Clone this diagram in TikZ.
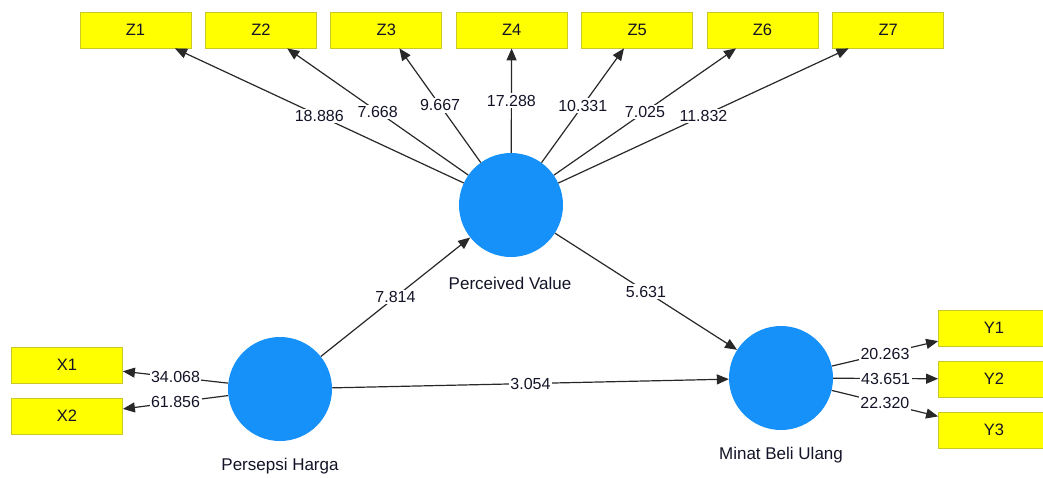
\documentclass[tikz,border=0pt]{standalone}
\usepackage{fontspec}
\setmainfont{Liberation Sans}
\usetikzlibrary{arrows.meta}
\definecolor{boxfill}{RGB}{255,255,0}
\definecolor{boxline}{RGB}{200,200,40}
\definecolor{lvfill}{RGB}{22,145,250}
\definecolor{edgec}{RGB}{40,40,40}
\definecolor{txt}{RGB}{20,20,40}
\begin{document}
\begin{tikzpicture}[x=1pt,y=-1pt,
 ind/.style={rectangle,draw=boxline,fill=boxfill,minimum width=111pt,minimum height=36pt,inner sep=0pt,font=\fontsize{16.5}{19}\selectfont,text=txt,line width=0.8pt},
 lv/.style={circle,fill=lvfill,minimum size=104pt,inner sep=0pt},
 lvname/.style={font=\fontsize{17}{20}\selectfont,text=txt},
 conn/.style={draw=edgec,line width=1.2pt,-{Triangle[length=12pt,width=10pt]}},
 coef/.style={fill=white,inner sep=1.5pt,font=\fontsize{16}{19}\selectfont,text=txt},
]
\useasboundingbox (0,0) rectangle (1043,477);
\clip (0,0) rectangle (1043,477);
\fill[white] (0,0) rectangle (1043,477);

% indicator boxes
\node[ind] (z1) at (135.5,30) {Z1};
\node[ind] (z2) at (261,30) {Z2};
\node[ind] (z3) at (386.3,30) {Z3};
\node[ind] (z4) at (511.7,30) {Z4};
\node[ind] (z5) at (637.2,30) {Z5};
\node[ind] (z6) at (762.4,30) {Z6};
\node[ind] (z7) at (888.2,30) {Z7};
\node[ind] (x1) at (67,365) {X1};
\node[ind] (x2) at (67,416) {X2};
\node[ind] (y1) at (994,328) {Y1};
\node[ind] (y2) at (994,379) {Y2};
\node[ind] (y3) at (994,430) {Y3};

% latent variables
\node[lv] (pv) at (511,205) {};
\node[lv] (ph) at (280,389) {};
\node[lv] (mbu) at (781,378) {};
\node[lvname] (pvl) at (510,283) {Perceived Value};
\node[lvname] (phl) at (280,466) {Persepsi Harga};
\node[lvname] (mbul) at (781,455) {Minat Beli Ulang};

% outer loadings
\draw[conn] (pv) -- node[coef]{18.886} (z1);
\draw[conn] (pv) -- node[coef]{7.668} (z2);
\draw[conn] (pv) -- node[coef]{9.667} (z3);
\draw[conn] (pv) -- node[coef]{17.288} (z4);
\draw[conn] (pv) -- node[coef]{10.331} (z5);
\draw[conn] (pv) -- node[coef]{7.025} (z6);
\draw[conn] (pv) -- node[coef]{11.832} (z7);
\draw[conn] (ph) -- node[coef]{34.068} (x1);
\draw[conn] (ph) -- node[coef]{61.856} (x2);
\draw[conn] (mbu) -- node[coef]{20.263} (y1);
\draw[conn] (mbu) -- node[coef]{43.651} (y2);
\draw[conn] (mbu) -- node[coef]{22.320} (y3);

% structural paths
\draw[conn] (ph) -- node[coef]{7.814} (pv);
\draw[conn] (pv) -- node[coef]{5.631} (mbu);
\draw[conn] (ph) -- node[coef]{3.054} (mbu);
\end{tikzpicture}
\end{document}
